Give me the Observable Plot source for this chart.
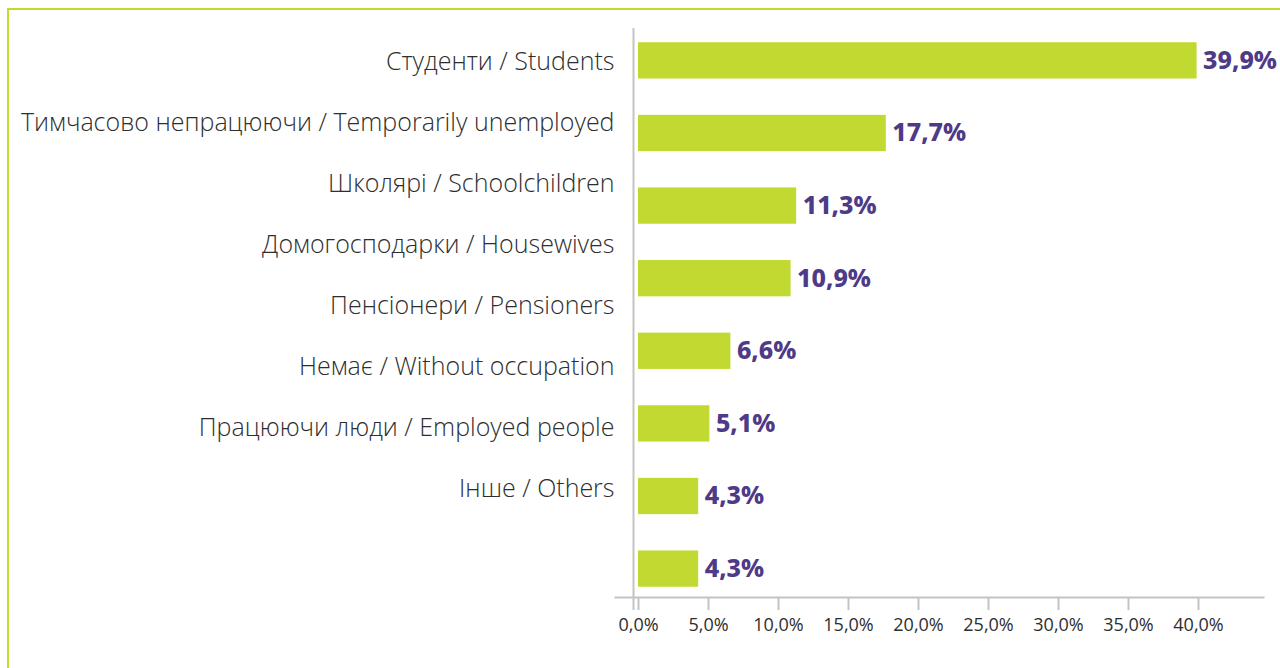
<!DOCTYPE html>
<html><head><meta charset="utf-8">
<script src="https://cdn.jsdelivr.net/npm/d3@7"></script>
<script src="https://cdn.jsdelivr.net/npm/@observablehq/plot@0.6"></script>
<style>
html,body{margin:0;padding:0;background:#fff;width:1280px;height:668px;overflow:hidden;}
#wrap{position:relative;width:1280px;height:668px;}
#border{position:absolute;left:7px;top:8px;width:1300px;height:700px;border-top:2.5px solid #c5d932;border-left:2.5px solid #c5d932;}
#bars,#labels{position:absolute;left:0;top:0;}
</style></head><body>
<div id="wrap"><div id="border"></div><div id="bars"></div><div id="labels"></div></div>
<script>
const categories = [
  "Студенти / Students",
  "Тимчасово непрацюючи / Temporarily unemployed",
  "Школярі / Schoolchildren",
  "Домогосподарки / Housewives",
  "Пенсіонери / Pensioners",
  "Немає / Without occupation",
  "Працюючи люди / Employed people",
  "Інше / Others"
];
const values = [39.9, 17.7, 11.3, 10.9, 6.6, 5.1, 4.3, 4.3];
const valueLabels = ["39,9%", "17,7%", "11,3%", "10,9%", "6,6%", "5,1%", "4,3%", "4,3%"];
const xTicks = [0, 5, 10, 15, 20, 25, 30, 35, 40];
const xTickLabels = ["0,0%", "5,0%", "10,0%", "15,0%", "20,0%", "25,0%", "30,0%", "35,0%", "40,0%"];

const data = categories.map((c, i) => ({cat: c, value: values[i], label: valueLabels[i]}));
const gray = "#c4c4c4";
const labelFont = "Open Sans";

const bars = Plot.plot({
  width: 1280, height: 668,
  marginLeft: 633, marginRight: 17, marginTop: 24, marginBottom: 71,
  x: {domain: [0, 45], axis: null},
  y: {domain: categories, paddingInner: 0.5, paddingOuter: 0.196, align: 0.64, round: false, axis: null},
  style: {background: "transparent", overflow: "visible", fontFamily: labelFont},
  marks: [
    Plot.barX(data, {x: "value", y: "cat", fill: "#c2d932", insetLeft: 5, insetRight: -5}),
    Plot.text(data, {x: "value", y: "cat", text: "label", textAnchor: "start", dx: 11, fill: "#4f3a87",
      fontSize: 25, fontWeight: 800, fontFamily: "Noto Sans"}),
    Plot.ruleX([0], {stroke: gray, strokeWidth: 2, insetTop: 4, insetBottom: -13}),
    Plot.frame({anchor: "bottom", stroke: gray, strokeWidth: 2, insetLeft: -18}),
    Plot.axisX({ticks: xTicks, tickSize: 13, stroke: gray, strokeWidth: 2, tickPadding: 8,
      fill: "#2e2e2e", fontSize: 18, fontWeight: 400, dx: 5, label: null,
      tickFormat: d => xTickLabels[xTicks.indexOf(d)]})
  ]
});
document.getElementById("bars").appendChild(bars);

const labels = Plot.plot({
  width: 620, height: 668,
  marginLeft: 0, marginRight: 6, marginTop: 30.5, marginBottom: 149.5,
  x: {axis: null},
  y: {type: "point", domain: categories, padding: 0.5, axis: null},
  style: {background: "transparent", overflow: "visible"},
  marks: [
    Plot.text(categories, {y: d => d, text: d => d, frameAnchor: "right", textAnchor: "end",
      fill: "#2e2e2e", fontSize: 25, fontWeight: 300, fontFamily: labelFont})
  ]
});
document.getElementById("labels").appendChild(labels);
</script>
</body></html>
